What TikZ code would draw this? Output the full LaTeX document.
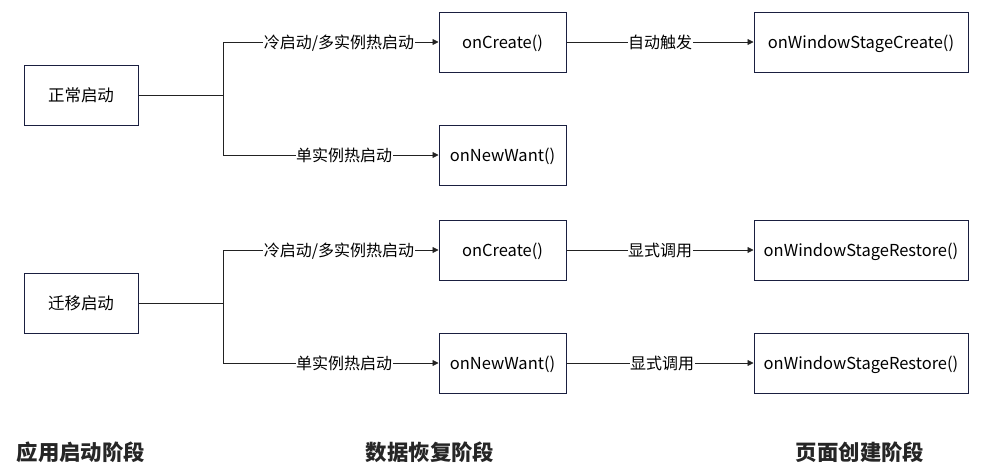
\documentclass[tikz,border=0pt]{standalone}
\usepackage{fontspec}
\setmainfont{Noto Sans CJK SC}
\usetikzlibrary{arrows.meta}
\definecolor{boxline}{HTML}{1A1F40}
\definecolor{conn}{HTML}{222222}
\begin{document}
\begin{tikzpicture}[x=1pt,y=-1pt,
  box/.style={draw=boxline,line width=1pt,minimum height=60pt,inner sep=0pt,text height=14pt,text depth=1pt,font=\fontsize{16.5}{18}\selectfont},
  lbl/.style={fill=white,inner sep=0.5pt,text height=13.5pt,text depth=0.5pt,font=\fontsize{16}{18}\selectfont},
  link/.style={draw=conn,line width=0.8pt},
  arr/.style={link,-{Triangle[length=6pt,width=6pt]}},
  title/.style={font=\fontsize{21.4}{24}\selectfont\bfseries,text=black!85}]
\useasboundingbox (0,0) rectangle (989,469);
% column 1
\node[box,minimum width=114pt] (n1) at (81,95) {正常启动};
\node[box,minimum width=114pt] (m1) at (81,303) {迁移启动};
% column 2
\node[box,minimum width=127pt] (c1) at (502.5,42) {onCreate()};
\node[box,minimum width=127pt] (w1) at (502.5,155) {onNewWant()};
\node[box,minimum width=127pt] (c2) at (502.5,250) {onCreate()};
\node[box,minimum width=127pt] (w2) at (502.5,363) {onNewWant()};
% column 3
\node[box,minimum width=214pt] (s1) at (861,42) {onWindowStageCreate()};
\node[box,minimum width=214pt] (r1) at (861,250) {onWindowStageRestore()};
\node[box,minimum width=214pt] (r2) at (861,363) {onWindowStageRestore()};
% branch points
\coordinate (b1) at (223,95);
\coordinate (b2) at (223,303);
\draw[link] (n1.east) -- (b1);
\draw[link] (m1.east) -- (b2);
\draw[arr] (b1) |- (c1.west);
\draw[arr] (b1) |- (w1.west);
\draw[arr] (b2) |- (c2.west);
\draw[arr] (b2) |- (w2.west);
\draw[arr] (c1.east) -- (s1.west);
\draw[arr] (c2.east) -- (r1.west);
\draw[arr] (w2.east) -- (r2.west);
% labels
\node[lbl] (l1) at (339,42) {冷启动/多实例热启动};
\node[lbl] (l2) at (344,155) {单实例热启动};
\node[lbl] (l3) at (339,250) {冷启动/多实例热启动};
\node[lbl] (l4) at (344,363) {单实例热启动};
\node[lbl] (l5) at (660,42) {自动触发};
\node[lbl] (l6) at (660,250) {显式调用};
\node[lbl] (l7) at (662,363) {显式调用};
% titles
\node[title] (t1) at (81,452) {应用启动阶段};
\node[title] (t2) at (430,452) {数据恢复阶段};
\node[title] (t3) at (860,452) {页面创建阶段};
\end{tikzpicture}
\end{document}
